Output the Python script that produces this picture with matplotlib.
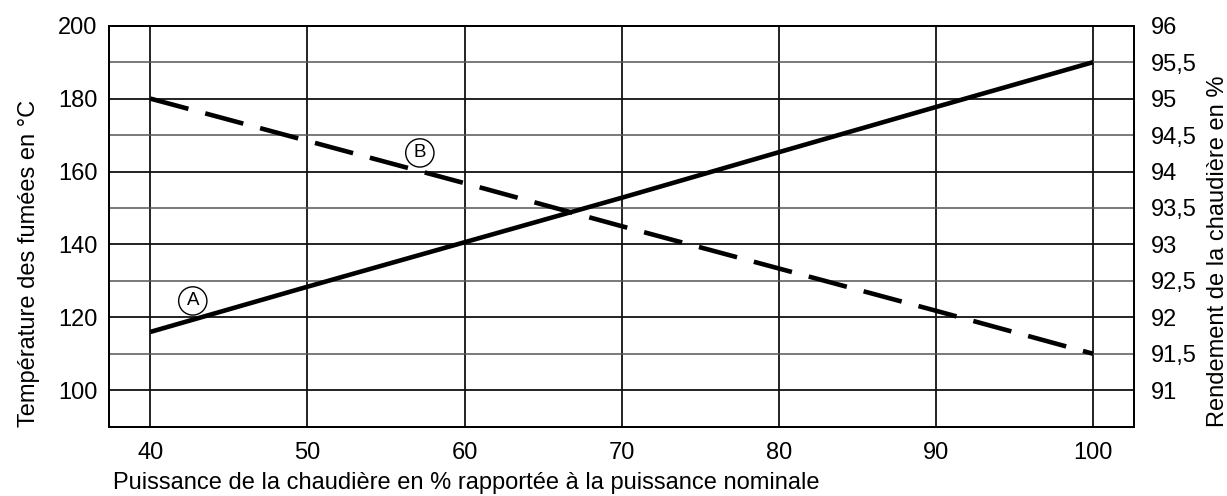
import matplotlib
matplotlib.use("Agg")
import matplotlib.pyplot as plt
from matplotlib.ticker import FixedLocator

plt.rcParams['font.family'] = ['Liberation Sans', 'DejaVu Sans']

# Data
load_pct = [40, 50, 60, 70, 80, 90, 100]
flue_temp_A = [116, 128.4, 140.6, 152.8, 165.3, 177.7, 190]          # left axis (°C)
efficiency_B = [95.0, 94.42, 93.84, 93.25, 92.67, 92.09, 91.5]      # right axis (%)
x_ticks = [40, 50, 60, 70, 80, 90, 100]
left_ticks = [100, 120, 140, 160, 180, 200]
left_minor = [110, 130, 150, 170, 190]
right_ticks = [91, 91.5, 92, 92.5, 93, 93.5, 94, 94.5, 95, 95.5, 96]
right_labels = ["91", "91,5", "92", "92,5", "93", "93,5", "94", "94,5", "95", "95,5", "96"]

fig = plt.figure(figsize=(12.27, 4.96), dpi=100)
ax = fig.add_axes([0.0886, 0.1397, 0.9242 - 0.0886, 0.9482 - 0.1397])
ax2 = ax.twinx()

ax.set_xlim(37.35, 102.6)
ax.set_ylim(90, 200)
ax2.set_ylim(90.5, 96)

ax.xaxis.set_major_locator(FixedLocator(x_ticks))
ax.yaxis.set_major_locator(FixedLocator(left_ticks))
ax.yaxis.set_minor_locator(FixedLocator(left_minor))
ax2.yaxis.set_major_locator(FixedLocator(right_ticks))
ax2.set_yticklabels(right_labels)

ax.grid(True, which='major', axis='both', color='#111111', lw=1.3)
ax.grid(True, which='minor', axis='y', color='#555555', lw=1.1)
ax.set_axisbelow(True)

fs = 17
ax.tick_params(axis='x', length=0, pad=11, labelsize=fs)
ax.tick_params(axis='y', which='both', length=0, pad=8, labelsize=fs)
ax2.tick_params(axis='y', length=0, pad=12, labelsize=fs)

for a in (ax, ax2):
    for s in a.spines.values():
        s.set_color('black')
        s.set_linewidth(1.4)

ax.plot(load_pct, flue_temp_A, color='black', lw=3.3, solid_capstyle='butt', zorder=3)
ax2.plot(load_pct, efficiency_B, color='black', lw=3.3, dashes=(8.6, 3.8), dash_capstyle='butt', zorder=3)

circ = dict(boxstyle='circle,pad=0.3', fc='white', ec='black', lw=1.0)
ax.text(42.7, 124.5, "A", fontsize=13.5, ha='center', va='center', bbox=circ, zorder=5)
ax.text(57.15, 165.1, "B", fontsize=13.5, ha='center', va='center', bbox=circ, zorder=5)

ax.set_xlabel("Puissance de la chaudière en % rapportée à la puissance nominale", fontsize=fs, labelpad=6, loc='left')
ax.xaxis.label.set_x(0.004)
ax.set_ylabel("Température des fumées en °C", fontsize=fs, labelpad=13, loc='bottom')
ax2.set_ylabel("Rendement de la chaudière en %", fontsize=fs, labelpad=7.5, loc='bottom')

fig.savefig("out.png", dpi=100)
